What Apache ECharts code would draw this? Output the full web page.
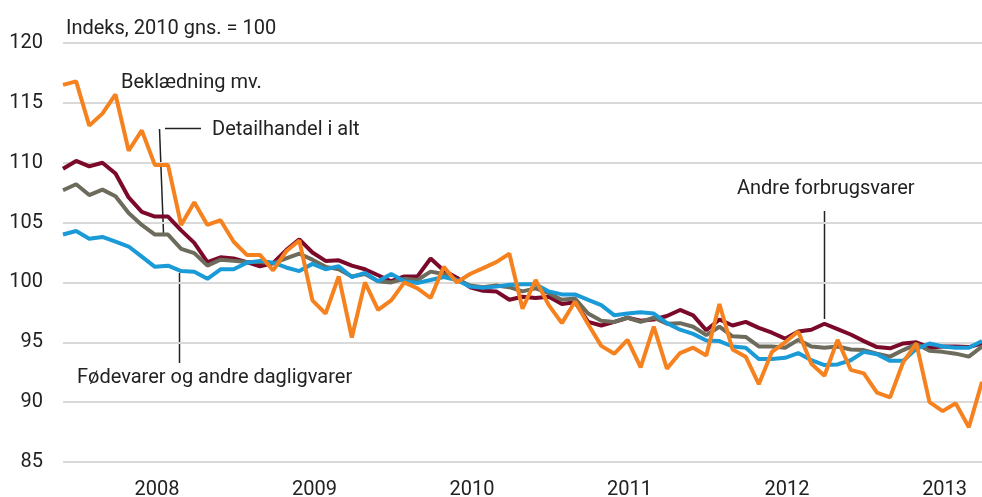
<!DOCTYPE html>
<html>
<head>
<meta charset="utf-8">
<script src="https://cdn.jsdelivr.net/npm/echarts@6/dist/echarts.min.js"></script>
<style>
  html, body { margin: 0; padding: 0; background: #fff; }
  #main { width: 982px; height: 497px; }
</style>
</head>
<body>
<div id="main"></div>
<script>
// month categories, Dec 2007 .. Oct 2013
var months = [];
for (var y = 2007, m = 12; months.length < 71; m++) {
  if (m > 12) { m = 1; y++; }
  months.push(y + '-' + (m < 10 ? '0' + m : m));
}
var yearLabels = ['2008', '2009', '2010', '2011', '2012', '2013'];

var andreForbrug = [109.5, 110.15, 109.7, 110.0, 109.1, 107.1, 105.9, 105.5, 105.5, 104.35,
  103.3, 101.7, 102.1, 102.0, 101.7, 101.35, 101.6, 102.7, 103.6, 102.5,
  101.8, 101.85, 101.4, 101.1, 100.6, 100.1, 100.5, 100.5, 102.0, 101.0,
  100.4, 99.6, 99.3, 99.25, 98.55, 98.8, 98.7, 98.8, 98.2, 98.35,
  96.7, 96.4, 96.7, 97.05, 96.8, 96.9, 97.2, 97.7, 97.25, 96.0,
  96.9, 96.4, 96.7, 96.2, 95.8, 95.3, 95.9, 96.05, 96.55, 96.1,
  95.65, 95.1, 94.6, 94.5, 94.9, 95.0, 94.55, 94.65, 94.65, 94.6, 94.9];

var detailhandel = [107.7, 108.2, 107.3, 107.75, 107.2, 105.8, 104.8, 104.0, 104.0, 102.8,
  102.45, 101.4, 101.9, 101.8, 101.7, 101.7, 101.6, 102.0, 102.4, 101.9,
  101.3, 101.1, 100.5, 100.7, 100.1, 100.0, 100.3, 100.2, 100.9, 100.7,
  100.2, 99.75, 99.6, 99.75, 99.6, 99.25, 99.5, 99.1, 98.55, 98.65,
  97.4, 96.8, 96.7, 97.05, 96.7, 97.05, 96.55, 96.6, 96.3, 95.6,
  96.3, 95.5, 95.45, 94.65, 94.65, 94.55, 95.2, 94.65, 94.55, 94.65,
  94.4, 94.35, 94.05, 93.8, 94.35, 94.85, 94.3, 94.2, 94.05, 93.8, 94.65];

var foedevarer = [104.0, 104.3, 103.65, 103.8, 103.4, 103.0, 102.15, 101.3, 101.4, 100.95,
  100.9, 100.3, 101.1, 101.1, 101.65, 101.8, 101.65, 101.25, 100.95, 101.55,
  101.1, 101.35, 100.45, 100.8, 100.1, 100.7, 100.1, 99.95, 100.2, 100.45,
  100.2, 99.65, 99.55, 99.65, 99.8, 99.85, 99.85, 99.25, 99.0, 99.0,
  98.55, 98.1, 97.25, 97.4, 97.5, 97.4, 96.6, 96.05, 95.7, 95.15,
  95.1, 94.65, 94.55, 93.6, 93.6, 93.7, 94.1, 93.5, 93.1, 93.15,
  93.5, 94.2, 94.0, 93.45, 93.45, 94.45, 94.9, 94.65, 94.55, 94.55, 95.1];

var beklaedning = [116.5, 116.8, 113.1, 114.1, 115.7, 111.0, 112.7, 109.8, 109.8, 104.8,
  106.7, 104.8, 105.2, 103.4, 102.3, 102.3, 101.0, 102.6, 103.5, 98.5,
  97.4, 100.5, 95.4, 100.0, 97.7, 98.5, 100.0, 99.5, 98.7, 101.3,
  100.0, 100.7, 101.2, 101.7, 102.4, 97.8, 100.2, 98.1, 96.6, 98.4,
  96.5, 94.7, 94.05, 95.2, 92.9, 96.3, 92.8, 94.1, 94.55, 93.9,
  98.2, 94.4, 93.8, 91.5, 94.2, 95.0, 95.9, 93.2, 92.2, 95.2,
  92.7, 92.4, 90.8, 90.4, 93.35, 94.9, 90.0, 89.25, 89.9, 87.9, 91.7];

var chart = echarts.init(document.getElementById('main'), null, { renderer: 'canvas' });

var font = 'Roboto, "Liberation Sans", sans-serif';
var txt = '#222';

function lineSeries(name, data, color) {
  return {
    name: name,
    type: 'line',
    data: data,
    symbol: 'none',
    smooth: false,
    lineStyle: { width: 4, color: color },
    itemStyle: { color: color },
    silent: true
  };
}

function label(x, y, text) {
  return {
    type: 'text', left: x, top: y,
    style: { text: text, font: '20px ' + font, fill: txt }
  };
}

function stroke(x1, y1, x2, y2) {
  return {
    type: 'line',
    shape: { x1: x1, y1: y1, x2: x2, y2: y2 },
    style: { stroke: '#222', lineWidth: 1.5 }
  };
}

var option = {
  animation: false,
  grid: {
    left: 63, right: 0, top: 43, bottom: 35,
    containLabel: false,
    outerBoundsMode: 'none'
  },
  xAxis: {
    type: 'category',
    data: months,
    boundaryGap: false,
    axisLine: { show: false },
    axisTick: { show: false },
    splitLine: { show: false },
    axisLabel: {
      interval: function (i, v) { return v.slice(5) === '07'; },
      formatter: function (v) {
        var yr = v.slice(0, 4);
        return yearLabels.indexOf(yr) >= 0 ? yr : '';
      },
      margin: 18,
      padding: [0, 0, 0, 4],
      fontSize: 20,
      fontFamily: font,
      color: txt
    }
  },
  yAxis: {
    type: 'value',
    min: 85,
    max: 120,
    interval: 5,
    axisLine: { show: false },
    axisTick: { show: false },
    splitLine: { lineStyle: { color: '#d9d9d9', width: 2 } },
    axisLabel: { margin: 20, fontSize: 20, fontFamily: font, color: txt }
  },
  series: [
    lineSeries('Andre forbrugsvarer', andreForbrug, '#7b0a2a'),
    lineSeries('Detailhandel i alt', detailhandel, '#6d6b5b'),
    lineSeries('Fødevarer og andre dagligvarer', foedevarer, '#1a9ad6'),
    lineSeries('Beklædning mv.', beklaedning, '#f5821f')
  ],
  graphic: [
    label(66, 19, 'Indeks, 2010 gns. = 100'),
    label(121, 73, 'Beklædning mv.'),
    label(212, 120, 'Detailhandel i alt'),
    stroke(165, 128.5, 201, 128.5),
    stroke(159.5, 129, 163.5, 233),
    label(77, 368, 'Fødevarer og andre dagligvarer'),
    stroke(179.5, 273, 179.5, 363),
    label(737, 179, 'Andre forbrugsvarer'),
    stroke(824.5, 211, 824.5, 319)
  ]
};

chart.setOption(option);
</script>
</body>
</html>
